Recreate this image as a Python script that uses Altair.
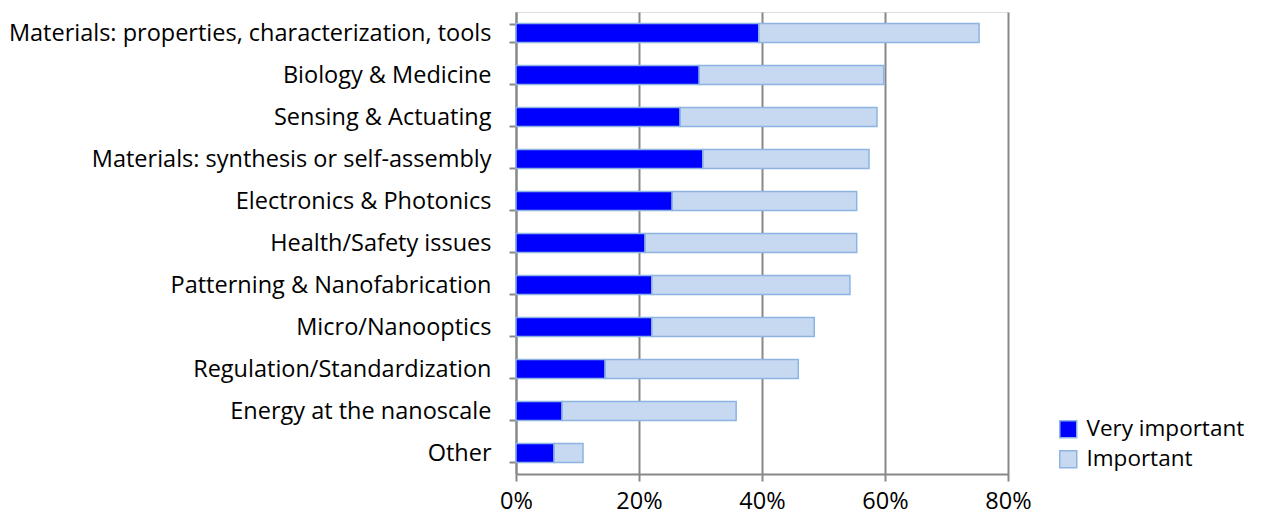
import altair as alt
import pandas as pd

categories = [
    "Materials: properties, characterization, tools",
    "Biology & Medicine",
    "Sensing & Actuating",
    "Materials: synthesis or self-assembly",
    "Electronics & Photonics",
    "Health/Safety issues",
    "Patterning & Nanofabrication",
    "Micro/Nanooptics",
    "Regulation/Standardization",
    "Energy at the nanoscale",
    "Other ",
]
very_important = [39.5, 29.8, 26.7, 30.4, 25.4, 21.0, 22.1, 22.1, 14.5, 7.5, 6.2]
important = [35.8, 30.0, 32.0, 27.0, 30.0, 34.4, 32.2, 26.4, 31.4, 28.3, 4.7]
series = ["Very important", "Important"]

rows = []
for c, v, i in zip(categories, very_important, important):
    rows.append({"cat": c, "series": series[0], "val": v / 100, "ord": 0})
    rows.append({"cat": c, "series": series[1], "val": i / 100, "ord": 1})
df = pd.DataFrame(rows)

FONT = "Open Sans"
FS = 23.5

chart = alt.Chart(df).mark_bar(stroke="#8DB4E2", strokeWidth=1.5).encode(
    y=alt.Y("cat:N", sort=categories, title=None,
            scale=alt.Scale(paddingInner=0.55, paddingOuter=0.275),
            axis=alt.Axis(tickBand="extent", tickSize=7, labelPadding=18,
                          labelFontSize=FS, labelFont=FONT, labelColor="black",
                          domainColor="#888888", tickColor="#888888",
                          domainWidth=2, tickWidth=2, labelLimit=600)),
    x=alt.X("val:Q", stack="zero", title=None,
            scale=alt.Scale(domain=[0, 0.8], nice=False),
            axis=alt.Axis(format=".0%", values=[0, 0.2, 0.4, 0.6, 0.8],
                          grid=True, gridColor="#888888", gridWidth=2,
                          tickSize=7, tickColor="#888888", tickWidth=2,
                          domainColor="#888888", domainWidth=2,
                          labelFontSize=FS, labelFont=FONT, labelColor="black",
                          labelPadding=8, labelFlush=False)),
    color=alt.Color("series:N", sort=series,
                    scale=alt.Scale(domain=series, range=["#0000FF", "#C6D9F1"]),
                    legend=alt.Legend(title=None, orient="none", legendX=541, legendY=406,
                                      symbolType="square", symbolSize=289,
                                      symbolStrokeColor="#8DB4E2", symbolStrokeWidth=1.5,
                                      labelFontSize=FS - 1, labelFont=FONT, labelColor="black",
                                      rowPadding=6, labelOffset=7)),
    order=alt.Order("ord:Q"),
).properties(
    width=492, height=462,
    autosize=alt.AutoSizeParams(type="none"),
    padding={"left": 516, "top": 12, "right": 255, "bottom": 47},
).configure_view(
    stroke="#888888", strokeWidth=2
).configure(background="white")

chart.save("out.html", embed_options={"renderer": "svg", "actions": False})
